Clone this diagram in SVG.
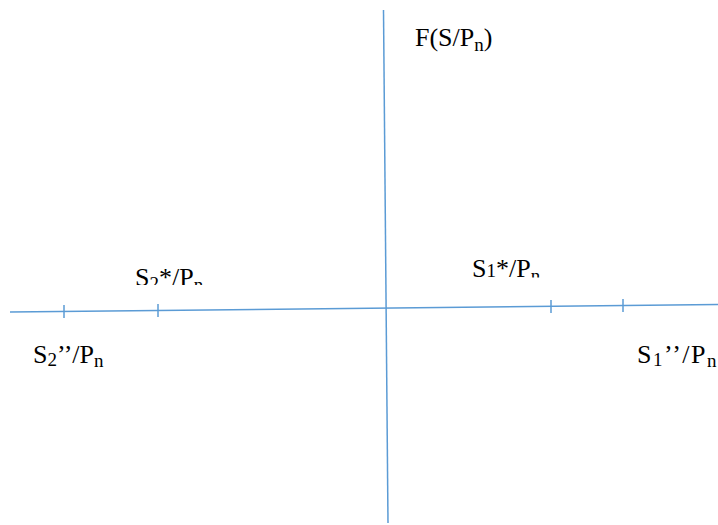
<svg xmlns="http://www.w3.org/2000/svg" width="718" height="525" viewBox="0 0 718 525">
<style>
.ax{stroke:#5B9BD5;stroke-width:1.5;fill:none}
.tk{stroke:#5B9BD5;stroke-width:1.5}
.t{font-family:"Liberation Serif","Times New Roman",serif;font-size:26px;fill:#000}
.s{font-size:19px}
</style>
<defs>
<clipPath id="c1"><rect x="100" y="250" width="150" height="35"/></clipPath>
<clipPath id="c2"><rect x="440" y="240" width="150" height="37.5"/></clipPath>
</defs>
<g id="axes" class="connectors">
<line class="ax" x1="10" y1="312" x2="718" y2="304.5"/>
<line class="ax" x1="383.5" y1="10" x2="388" y2="523"/>
<line class="tk" x1="64" y1="305" x2="64" y2="318"/>
<line class="tk" x1="158" y1="304" x2="158" y2="317"/>
<line class="tk" x1="551" y1="300" x2="551" y2="313"/>
<line class="tk" x1="623" y1="299" x2="623" y2="312"/>
</g>
<g id="label-F"><text class="t" x="415" y="46">F(S/P<tspan class="s" dy="5">n</tspan><tspan dy="-5">)</tspan></text></g>
<g id="label-S2star" clip-path="url(#c1)"><text class="t" x="135" y="286">S<tspan class="s" dy="4">2</tspan><tspan dy="-4">*/P</tspan><tspan class="s" dy="5">n</tspan></text></g>
<g id="label-S1star" clip-path="url(#c2)"><text class="t" x="472" y="277">S<tspan class="s">1</tspan>*/P<tspan class="s" dy="5">n</tspan></text></g>
<g id="label-S2pp"><text class="t" x="33" y="363">S<tspan class="s" dy="3">2</tspan><tspan dy="-3">’’/P</tspan><tspan class="s" dy="4">n</tspan></text></g>
<g id="label-S1pp"><text class="t" x="637" y="363" letter-spacing="1.5">S<tspan class="s" dy="3">1</tspan><tspan dy="-3">’’/P</tspan><tspan class="s" dy="4">n</tspan></text></g>
</svg>
